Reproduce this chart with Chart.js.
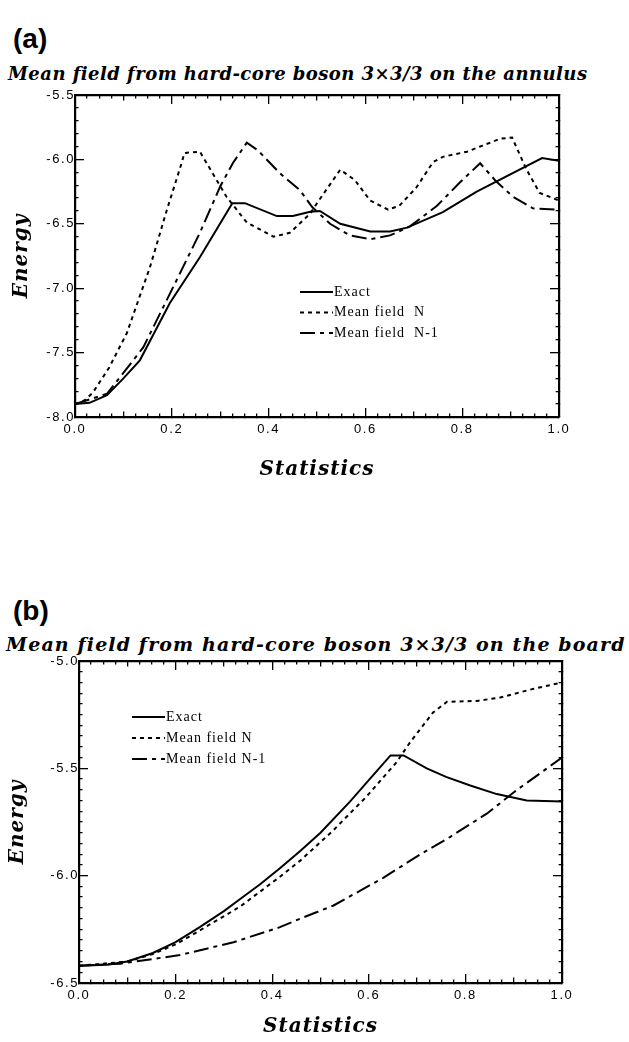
<!DOCTYPE html>
<html>
<head>
<meta charset="utf-8">
<script src="https://cdn.jsdelivr.net/npm/chart.js@4.4.1/dist/chart.umd.min.js"></script>
<style>
  body { margin: 0; background: #fff; width: 629px; height: 1042px; position: relative; overflow: hidden; }
  .tag { position: absolute; left: 13px; font-family: "Liberation Sans", Arial, sans-serif; font-weight: bold; font-size: 28px; line-height: 30px; color: #000; }
  .title { position: absolute; font-family: "DejaVu Serif", serif; font-weight: bold; font-style: italic; line-height: 22px; white-space: nowrap; color: #000; }
  canvas { position: absolute; left: 0; }
</style>
</head>
<body>
<div class="tag" style="top:24px">(a)</div>
<div class="title" id="titleA" style="top:63px; left:8px; font-size:18px">Mean field from hard-core boson 3×3/3 on the annulus</div>
<canvas id="annulus" width="629" height="500" style="top:0"></canvas>

<div class="tag" style="top:596px">(b)</div>
<div class="title" id="titleB" style="top:633px; left:6px; font-size:19px">Mean field from hard-core boson 3×3/3 on the board</div>
<canvas id="board" width="629" height="522" style="top:520px"></canvas>

<script>
// axis tick labels
const xTickValues = [0, 0.2, 0.4, 0.6, 0.8, 1.0];
const annulusYTicks = [-8.0, -7.5, -7.0, -6.5, -6.0, -5.5];
const boardYTicks = [-6.5, -6.0, -5.5, -5.0];

// (a) annulus
const annulusExactX = [0, 0.03, 0.066, 0.1, 0.134, 0.196, 0.258, 0.325, 0.351, 0.417, 0.45, 0.486, 0.506, 0.548, 0.61, 0.651, 0.686, 0.76, 0.83, 0.965, 1.0];
const annulusExactY = [-7.90, -7.89, -7.83, -7.70, -7.56, -7.115, -6.76, -6.34, -6.34, -6.44, -6.44, -6.406, -6.40, -6.50, -6.56, -6.56, -6.53, -6.41, -6.25, -5.99, -6.01];
const annulusNX = [0, 0.02, 0.037, 0.07, 0.107, 0.155, 0.19, 0.221, 0.226, 0.258, 0.313, 0.355, 0.41, 0.444, 0.486, 0.5, 0.548, 0.578, 0.61, 0.647, 0.67, 0.705, 0.74, 0.76, 0.81, 0.878, 0.903, 0.933, 0.96, 1.0];
const annulusNY = [-7.90, -7.87, -7.81, -7.62, -7.35, -6.835, -6.39, -6.02, -5.95, -5.94, -6.29, -6.49, -6.60, -6.57, -6.42, -6.34, -6.08, -6.16, -6.32, -6.39, -6.36, -6.22, -6.02, -5.98, -5.94, -5.84, -5.83, -6.08, -6.26, -6.32];
const annulusN1X = [0, 0.066, 0.141, 0.203, 0.258, 0.30, 0.326, 0.355, 0.378, 0.424, 0.465, 0.49, 0.527, 0.568, 0.61, 0.651, 0.692, 0.748, 0.795, 0.837, 0.87, 0.905, 0.946, 1.0];
const annulusN1Y = [-7.90, -7.82, -7.46, -6.99, -6.57, -6.21, -6.03, -5.87, -5.93, -6.11, -6.24, -6.37, -6.50, -6.59, -6.62, -6.59, -6.52, -6.36, -6.18, -6.03, -6.17, -6.29, -6.38, -6.39];

// (b) board
const boardExactX = [0, 0.058, 0.1, 0.153, 0.2, 0.25, 0.3, 0.333, 0.375, 0.416, 0.458, 0.5, 0.561, 0.6, 0.645, 0.672, 0.72, 0.76, 0.81, 0.865, 0.927, 1.0];
const boardExactY = [-6.42, -6.415, -6.40, -6.36, -6.31, -6.24, -6.165, -6.11, -6.04, -5.965, -5.885, -5.80, -5.655, -5.555, -5.44, -5.44, -5.50, -5.54, -5.58, -5.62, -5.65, -5.655];
const boardNX = [0, 0.1, 0.153, 0.2, 0.25, 0.333, 0.416, 0.458, 0.526, 0.596, 0.658, 0.685, 0.733, 0.762, 0.824, 0.872, 0.94, 1.0];
const boardNY = [-6.42, -6.40, -6.365, -6.32, -6.255, -6.145, -6.005, -5.93, -5.79, -5.63, -5.47, -5.38, -5.24, -5.19, -5.186, -5.17, -5.13, -5.10];
const boardN1X = [0, 0.085, 0.209, 0.32, 0.416, 0.458, 0.526, 0.63, 0.70, 0.768, 0.845, 0.907, 1.0];
const boardN1Y = [-6.42, -6.41, -6.37, -6.31, -6.24, -6.20, -6.14, -6.01, -5.91, -5.82, -5.71, -5.60, -5.45];

const SOLID = [];
const DOTTED = [4, 4];
const DASH_DOT = [15, 5, 4, 5];

// tick marks point into the plot: negative length, drawn by the scales
const TICK_LEN = 9;
const FRAME_W = 2.2;
const MARK_SPAN = TICK_LEN + FRAME_W / 2;

function points(xs, ys) {
  return xs.map((x, i) => ({ x: x, y: ys[i] }));
}

function series(label, xs, ys, dash) {
  return {
    label: label,
    data: points(xs, ys),
    xAxisID: 'x',
    yAxisID: 'y',
    borderColor: '#000',
    borderWidth: 2,
    borderDash: dash,
    pointRadius: 0,
    tension: 0,
    fill: false
  };
}

function steps(lo, hi, step) {
  const n = Math.round((hi - lo) / step);
  return Array.from({ length: n + 1 }, (_, i) => lo + i * step);
}

function onMultiple(v, step) {
  const r = v / step;
  return Math.abs(r - Math.round(r)) < 1e-6;
}

function isLabelled(v, list) {
  return list.some(t => Math.abs(t - v) < 1e-9);
}

// minor marks are shortened with a dash; which end the stroke starts
// from depends on the side of the frame
function markDash(value, t, fromBorder) {
  if (onMultiple(value, t.major)) return [];
  const on = (t.mid && onMultiple(value, t.mid) ? 5.5 : 3.5) + FRAME_W / 2;
  return fromBorder ? [on, 50] : [0, MARK_SPAN - on, on, 50];
}

function sideScale(axis, position, lo, hi, marks, labels, extra) {
  const values = steps(lo, hi, marks.minor);
  const fromBorder = position === 'bottom' || position === 'right';
  const base = {
    type: 'linear',
    axis: axis,
    position: position,
    min: lo,
    max: hi,
    afterBuildTicks: s => { s.ticks = values.map(v => ({ value: v })); },
    grid: {
      display: true,
      drawOnChartArea: false,
      drawTicks: true,
      tickLength: -TICK_LEN,
      color: '#000',
      lineWidth: 1.3,
      tickBorderDash: c => (c.tick ? markDash(c.tick.value, marks, fromBorder) : [])
    },
    border: { display: true, color: '#000', width: FRAME_W },
    ticks: labels
      ? { z: 1, font: tickFont, color: '#000', autoSkip: false, maxRotation: 0, minRotation: 0,
          callback: v => (isLabelled(v, labels) ? v.toFixed(1) : '') }
      : { display: false, autoSkip: false }
  };
  return Object.assign(base, extra);
}

// in-plot key, styled from the datasets
function plotKey(name, k) {
  return {
    id: 'plotKey_' + name,
    beforeDraw(chart) {
      // axis titles are drawn before the datasets
      chart.ctx.letterSpacing = '1px';
    },
    afterDatasetsDraw(chart) {
      // tick labels come after this hook (ticks.z = 1)
      chart.ctx.letterSpacing = '1.6px';
    },
    afterDraw(chart) {
      const ctx = chart.ctx;
      const a = chart.chartArea;
      ctx.save();
      ctx.font = k.font;
      ctx.letterSpacing = k.spacing;
      ctx.fillStyle = '#000';
      ctx.strokeStyle = '#000';
      ctx.textBaseline = 'middle';
      ctx.textAlign = 'left';
      chart.data.datasets.forEach((ds, i) => {
        const x0 = a.left + k.left;
        const y0 = a.top + k.top + i * k.rowGap;
        ctx.lineWidth = ds.borderWidth;
        ctx.setLineDash(ds.borderDash);
        ctx.beginPath();
        ctx.moveTo(x0, y0); ctx.lineTo(x0 + k.lineLength, y0);
        ctx.stroke();
        ctx.setLineDash([]);
        ctx.fillText(k.labels[i], x0 + k.lineLength + 1, y0);
      });
      ctx.restore();
    }
  };
}

const tickFont = { family: "'Liberation Sans', Arial, sans-serif", size: 13 };
const titleFont = { family: "'DejaVu Serif', serif", size: 20, weight: 'bold', style: 'italic' };

function makeChart(id, cfg) {
  const yLo = cfg.yTicks[0];
  const yHi = cfg.yTicks[cfg.yTicks.length - 1];
  const xLo = xTickValues[0];
  const xHi = xTickValues[xTickValues.length - 1];
  const xMarks = { minor: 0.025, mid: 0.1, major: 0.2 };
  const yMarks = { minor: cfg.yMinor, mid: 0, major: 0.5 };

  const x = sideScale('x', 'bottom', xLo, xHi, xMarks, xTickValues, {
    afterFit: s => { s.height = cfg.xHeight; },
    title: { display: true, text: 'Statistics', font: titleFont, color: '#000', padding: { top: 0, bottom: cfg.xTitlePad } }
  });
  x.ticks.padding = 5 + TICK_LEN;

  const y = sideScale('y', 'left', yLo, yHi, yMarks, cfg.yTicks, {
    afterFit: s => { s.width = cfg.yWidth; },
    title: { display: true, text: 'Energy', font: titleFont, color: '#000', padding: { top: cfg.yTitlePad, bottom: 0 } }
  });
  y.ticks.padding = TICK_LEN;

  const xTop = sideScale('x', 'top', xLo, xHi, xMarks, null, { afterFit: s => { s.height = 0; } });
  const yRight = sideScale('y', 'right', yLo, yHi, yMarks, null, { afterFit: s => { s.width = 0; } });

  return new Chart(document.getElementById(id), {
    type: 'line',
    data: { datasets: cfg.datasets },
    plugins: [plotKey(id, cfg.key)],
    options: {
      responsive: false,
      animation: false,
      devicePixelRatio: 1,
      layout: { padding: cfg.padding },
      plugins: {
        legend: { display: false },
        tooltip: { enabled: false }
      },
      scales: { x: x, y: y, xTop: xTop, yRight: yRight }
    }
  });
}

makeChart('annulus', {
  datasets: [
    series('Exact', annulusExactX, annulusExactY, SOLID),
    series('Mean field N', annulusNX, annulusNY, DOTTED),
    series('Mean field N-1', annulusN1X, annulusN1Y, DASH_DOT)
  ],
  yTicks: annulusYTicks,
  yMinor: 0.1,
  padding: { top: 95, right: 70, left: 0, bottom: 0 },
  yWidth: 75,
  xHeight: 83,
  xTitlePad: 18,
  yTitlePad: 10,
  key: {
    left: 225, top: 197, rowGap: 20.5, lineLength: 33,
    font: "14px 'Liberation Serif', serif", spacing: '1px',
    labels: ['Exact', 'Mean field  N', 'Mean field  N-1']
  }
});

makeChart('board', {
  datasets: [
    series('Exact', boardExactX, boardExactY, SOLID),
    series('Mean field N', boardNX, boardNY, DOTTED),
    series('Mean field N-1', boardN1X, boardN1Y, DASH_DOT)
  ],
  yTicks: boardYTicks,
  yMinor: 0.05,
  padding: { top: 141, right: 67, left: 0, bottom: 0 },
  yWidth: 79,
  xHeight: 59,
  xTitlePad: 3,
  yTitlePad: 6,
  key: {
    left: 53, top: 56, rowGap: 21, lineLength: 33,
    font: "14px 'Liberation Serif', serif", spacing: '1px',
    labels: ['Exact', 'Mean field N', 'Mean field N-1']
  }
});

// stretch the panel headings to their printed widths
function fitWidth(el, target) {
  const w = el.getBoundingClientRect().width;
  el.style.letterSpacing = ((target - w) / el.textContent.length) + 'px';
}
fitWidth(document.getElementById('titleA'), 578);
fitWidth(document.getElementById('titleB'), 618);
</script>
</body>
</html>
